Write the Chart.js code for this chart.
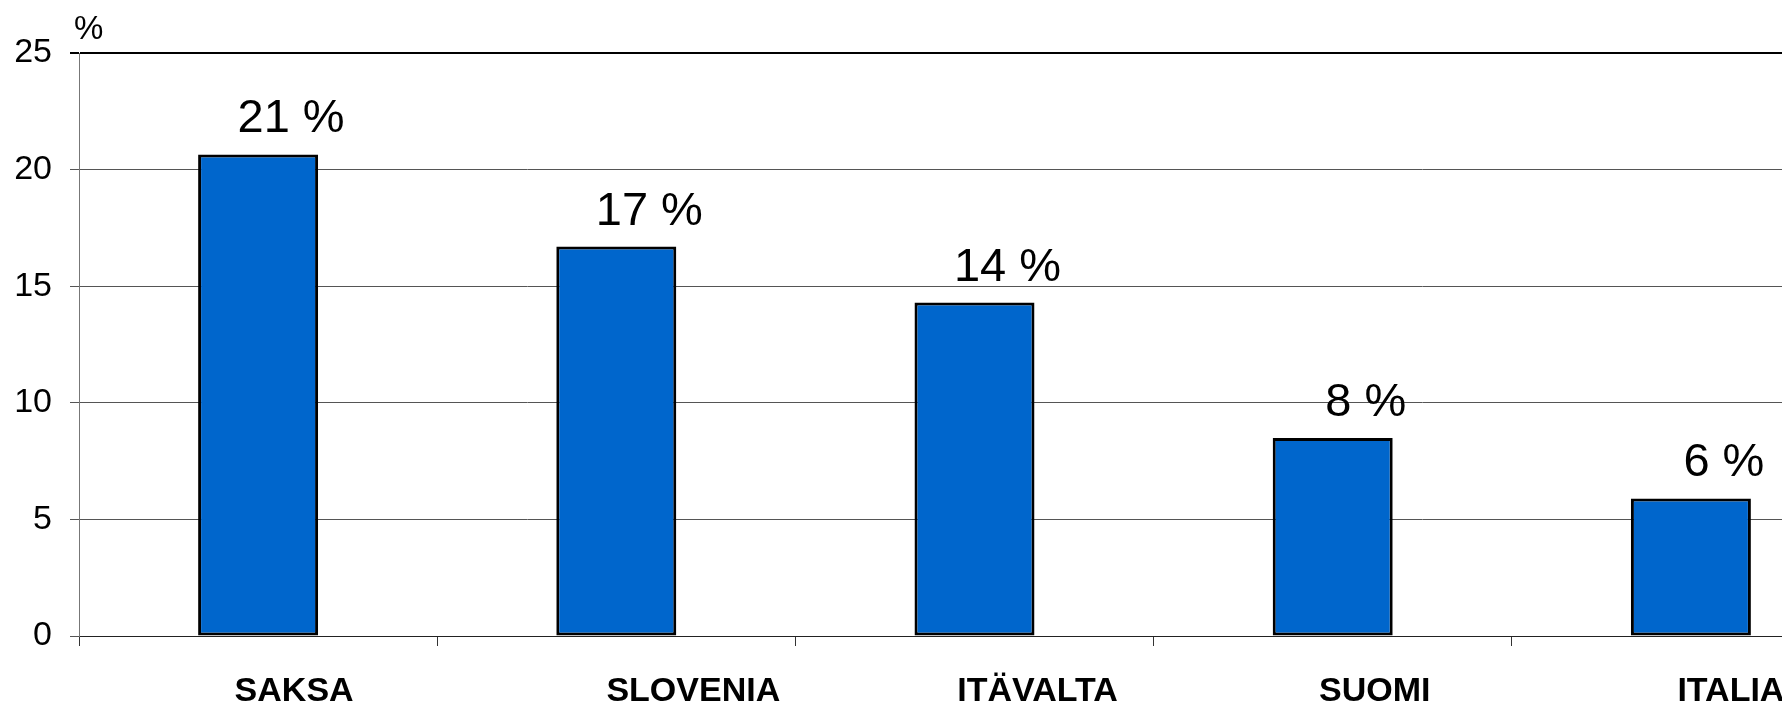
<!DOCTYPE html>
<html>
<head>
<meta charset="utf-8">
<script src="https://cdn.jsdelivr.net/npm/chart.js@4/dist/chart.umd.min.js"></script>
<style>
  html, body { margin: 0; padding: 0; background: #fff; overflow: hidden; }
  #wrap { width: 1782px; height: 704px; overflow: hidden; position: relative; }
  #box { width: 1872px; height: 704px; position: absolute; left: 0; top: 0; }
</style>
</head>
<body>
<div id="wrap"><div id="box"><canvas id="c"></canvas></div></div>
<script>
const categories = ["SAKSA", "SLOVENIA", "ITÄVALTA", "SUOMI", "ITALIA"];
const values = [20.65, 16.7, 14.3, 8.49, 5.9];
const yTicks = [0, 5, 10, 15, 20, 25];
const unitLabel = "%";

// styling: horizontal nudge of each category label from its category centre (px)
const CATEGORY_LABEL_SHIFT = [36, 77, 63, 42, 40];

const FONT = '"Liberation Sans", Arial, Helvetica, sans-serif';

const labelPlugin = {
  id: 'labels',
  afterDatasetsDraw(chart) {
    const ctx = chart.ctx;
    const meta = chart.getDatasetMeta(0);
    const xs = chart.scales.x;
    const area = chart.chartArea;
    ctx.save();
    // value labels above the bars
    ctx.font = '47px ' + FONT;
    ctx.fillStyle = '#000';
    ctx.textAlign = 'center';
    ctx.textBaseline = 'alphabetic';
    meta.data.forEach((bar, i) => {
      ctx.fillText(Math.round(values[i]) + ' %', bar.x + 33, bar.y - 22);
    });
    // unit label over the value axis
    ctx.font = '33px ' + FONT;
    ctx.textAlign = 'left';
    ctx.fillText(unitLabel, area.left - 5, area.top - 14);
    // category labels
    ctx.font = 'bold 34px ' + FONT;
    ctx.textAlign = 'center';
    categories.forEach((lab, i) => {
      ctx.fillText(lab, xs.getPixelForTick(i) + CATEGORY_LABEL_SHIFT[i], area.bottom + 64.5);
    });
    ctx.restore();
  }
};

new Chart(document.getElementById('c'), {
  type: 'bar',
  data: {
    labels: categories,
    datasets: [{
      data: values,
      backgroundColor: '#0066CC',
      borderColor: '#000',
      borderWidth: 3,
      borderSkipped: false,
      barPercentage: 0.335,
      categoryPercentage: 1.0
    }]
  },
  options: {
    responsive: true,
    maintainAspectRatio: false,
    animation: false,
    devicePixelRatio: 1,
    layout: { padding: { left: 0, top: 53, right: 2, bottom: 0 } },
    plugins: { legend: { display: false }, tooltip: { enabled: false }, title: { display: false } },
    scales: {
      x: {
        offset: true,
        grid: {
          offset: true,
          drawOnChartArea: false,
          drawTicks: true,
          tickLength: 10,
          color: '#333'
        },
        border: { display: true, color: '#222', width: 1 },
        ticks: { display: false },
        afterFit(scale) { scale.height = 704 - 636; }
      },
      y: {
        min: 0,
        max: 25,
        afterBuildTicks(scale) { scale.ticks = yTicks.map(v => ({ value: v })); },
        grid: {
          color: (c) => c.tick && c.tick.value === 25 ? '#000' : '#555',
          lineWidth: (c) => c.tick && c.tick.value === 25 ? 2 : 1,
          drawTicks: true,
          tickLength: 9
        },
        border: { display: true, color: '#777', width: 1 },
        ticks: {
          font: { family: FONT, size: 34 },
          color: '#000',
          padding: 18
        },
        afterFit(scale) { scale.width = 79; }
      }
    }
  },
  plugins: [labelPlugin]
});
</script>
</body>
</html>
